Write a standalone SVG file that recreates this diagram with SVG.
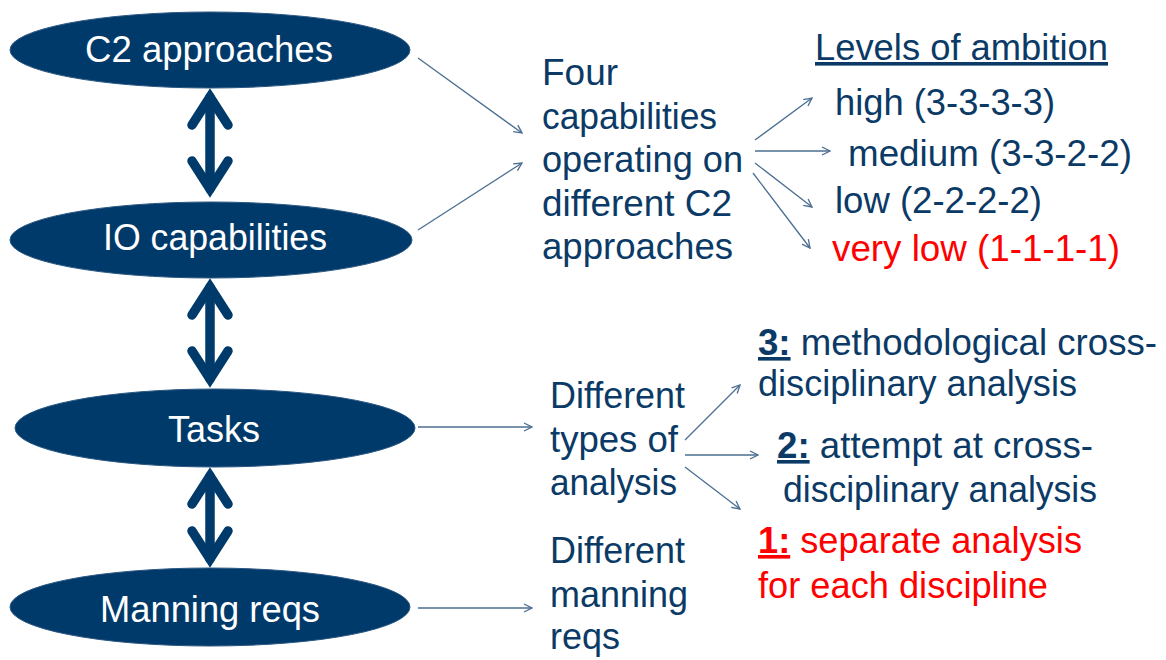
<svg xmlns="http://www.w3.org/2000/svg" xmlns:xlink="http://www.w3.org/1999/xlink" width="1166" height="660" viewBox="0 0 1166 660">
  <style>
    .node { fill: #003a6a; stroke: #2b5782; stroke-width: 1; }
    .ntext { font-family: "Liberation Sans", Arial, sans-serif; font-size: 36px; fill: #ffffff; text-anchor: middle; }
    .txt { font-family: "Liberation Sans", Arial, sans-serif; font-size: 36px; fill: #0b3a66; }
    .red { fill: #ff0000; }
    .ul { text-decoration: underline; }
    .b { font-weight: bold; }
    .thin { stroke: #4b6e91; stroke-width: 1.3; fill: none; marker-end: url(#open); }
    .thick { stroke: #003a6a; stroke-width: 9.5; fill: none; stroke-linecap: round; stroke-linejoin: miter; stroke-miterlimit: 10; }
  </style>
  <defs>
    <marker id="open" viewBox="0 0 10 10" refX="9" refY="5" markerWidth="10" markerHeight="10" markerUnits="userSpaceOnUse" orient="auto">
      <path d="M1,1 L9,5 L1,9" fill="none" stroke="#4b6e91" stroke-width="1.3"/>
    </marker>
    <path id="chev" d="M-18,28 L0,0 L18,28"/>
  </defs>

  <rect width="1166" height="660" fill="#ffffff"/>

  <g id="connectors">
    <!-- two-way links between the stacked ellipses -->
    <g class="thick">
      <line x1="210" y1="97" x2="210" y2="189"/>
      <use xlink:href="#chev" transform="translate(210,97)"/>
      <use xlink:href="#chev" transform="translate(210,189) rotate(180)"/>
      <line x1="210" y1="287" x2="210" y2="379"/>
      <use xlink:href="#chev" transform="translate(210,287)"/>
      <use xlink:href="#chev" transform="translate(210,379) rotate(180)"/>
      <line x1="210" y1="476" x2="210" y2="559"/>
      <use xlink:href="#chev" transform="translate(210,476)"/>
      <use xlink:href="#chev" transform="translate(210,559) rotate(180)"/>
    </g>
    <!-- thin pointers -->
    <line class="thin" x1="418" y1="58" x2="522" y2="133"/>
    <line class="thin" x1="418" y1="230" x2="522" y2="163"/>
    <line class="thin" x1="755" y1="140" x2="812" y2="98"/>
    <line class="thin" x1="755" y1="151" x2="830" y2="151"/>
    <line class="thin" x1="755" y1="163" x2="812" y2="207"/>
    <line class="thin" x1="753" y1="173" x2="810" y2="248"/>
    <line class="thin" x1="418" y1="427" x2="532" y2="427"/>
    <line class="thin" x1="418" y1="608" x2="532" y2="608"/>
    <line class="thin" x1="685" y1="440" x2="740" y2="385"/>
    <line class="thin" x1="685" y1="455" x2="758" y2="455"/>
    <line class="thin" x1="685" y1="467" x2="740" y2="509"/>
  </g>

  <g id="c2-approaches">
    <ellipse class="node" cx="210" cy="50" rx="200" ry="38"/>
    <text class="ntext" x="209" y="62" textLength="248" lengthAdjust="spacingAndGlyphs">C2 approaches</text>
  </g>
  <g id="io-capabilities">
    <ellipse class="node" cx="211" cy="240" rx="201" ry="38"/>
    <text class="ntext" x="215" y="250" textLength="224" lengthAdjust="spacingAndGlyphs">IO capabilities</text>
  </g>
  <g id="tasks">
    <ellipse class="node" cx="215" cy="428" rx="200" ry="39"/>
    <text class="ntext" x="214" y="442" textLength="92" lengthAdjust="spacingAndGlyphs">Tasks</text>
  </g>
  <g id="manning-reqs">
    <ellipse class="node" cx="210" cy="607" rx="200" ry="39"/>
    <text class="ntext" x="210" y="622" textLength="220" lengthAdjust="spacingAndGlyphs">Manning reqs</text>
  </g>

  <g id="four-capabilities">
    <text class="txt" x="542" y="85" textLength="76" lengthAdjust="spacingAndGlyphs">Four</text>
    <text class="txt" x="542" y="128.5" textLength="175" lengthAdjust="spacingAndGlyphs">capabilities</text>
    <text class="txt" x="542" y="172" textLength="201" lengthAdjust="spacingAndGlyphs">operating on</text>
    <text class="txt" x="542" y="215.5" textLength="190" lengthAdjust="spacingAndGlyphs">different C2</text>
    <text class="txt" x="542" y="259" textLength="191" lengthAdjust="spacingAndGlyphs">approaches</text>
  </g>

  <g id="levels-of-ambition">
    <text class="txt ul" x="815" y="60" textLength="293" lengthAdjust="spacingAndGlyphs">Levels of ambition</text>
    <text class="txt" x="835" y="115" textLength="220" lengthAdjust="spacingAndGlyphs">high (3-3-3-3)</text>
    <text class="txt" x="848" y="166" textLength="284" lengthAdjust="spacingAndGlyphs">medium (3-3-2-2)</text>
    <text class="txt" x="835" y="213" textLength="207" lengthAdjust="spacingAndGlyphs">low (2-2-2-2)</text>
    <text class="txt red" x="832" y="261" textLength="288" lengthAdjust="spacingAndGlyphs">very low (1-1-1-1)</text>
  </g>

  <g id="types-of-analysis">
    <text class="txt" x="550" y="408" textLength="135" lengthAdjust="spacingAndGlyphs">Different</text>
    <text class="txt" x="550" y="452" textLength="128" lengthAdjust="spacingAndGlyphs">types of</text>
    <text class="txt" x="550" y="495" textLength="127" lengthAdjust="spacingAndGlyphs">analysis</text>
  </g>

  <g id="manning-needs">
    <text class="txt" x="550" y="563" textLength="135" lengthAdjust="spacingAndGlyphs">Different</text>
    <text class="txt" x="550" y="607" textLength="138" lengthAdjust="spacingAndGlyphs">manning</text>
    <text class="txt" x="550" y="649" textLength="70" lengthAdjust="spacingAndGlyphs">reqs</text>
  </g>

  <g id="analysis-levels">
    <text class="txt" x="758" y="355" textLength="399" lengthAdjust="spacingAndGlyphs"><tspan class="b ul">3:</tspan> methodological cross-</text>
    <text class="txt" x="758" y="396" textLength="319" lengthAdjust="spacingAndGlyphs">disciplinary analysis</text>
    <text class="txt" x="777" y="458" textLength="316" lengthAdjust="spacingAndGlyphs"><tspan class="b ul">2:</tspan> attempt at cross-</text>
    <text class="txt" x="783" y="502" textLength="314" lengthAdjust="spacingAndGlyphs">disciplinary analysis</text>
    <text class="txt red" x="758" y="553" textLength="324" lengthAdjust="spacingAndGlyphs"><tspan class="b ul">1:</tspan> separate analysis</text>
    <text class="txt red" x="758" y="598" textLength="290" lengthAdjust="spacingAndGlyphs">for each discipline</text>
  </g>
</svg>
